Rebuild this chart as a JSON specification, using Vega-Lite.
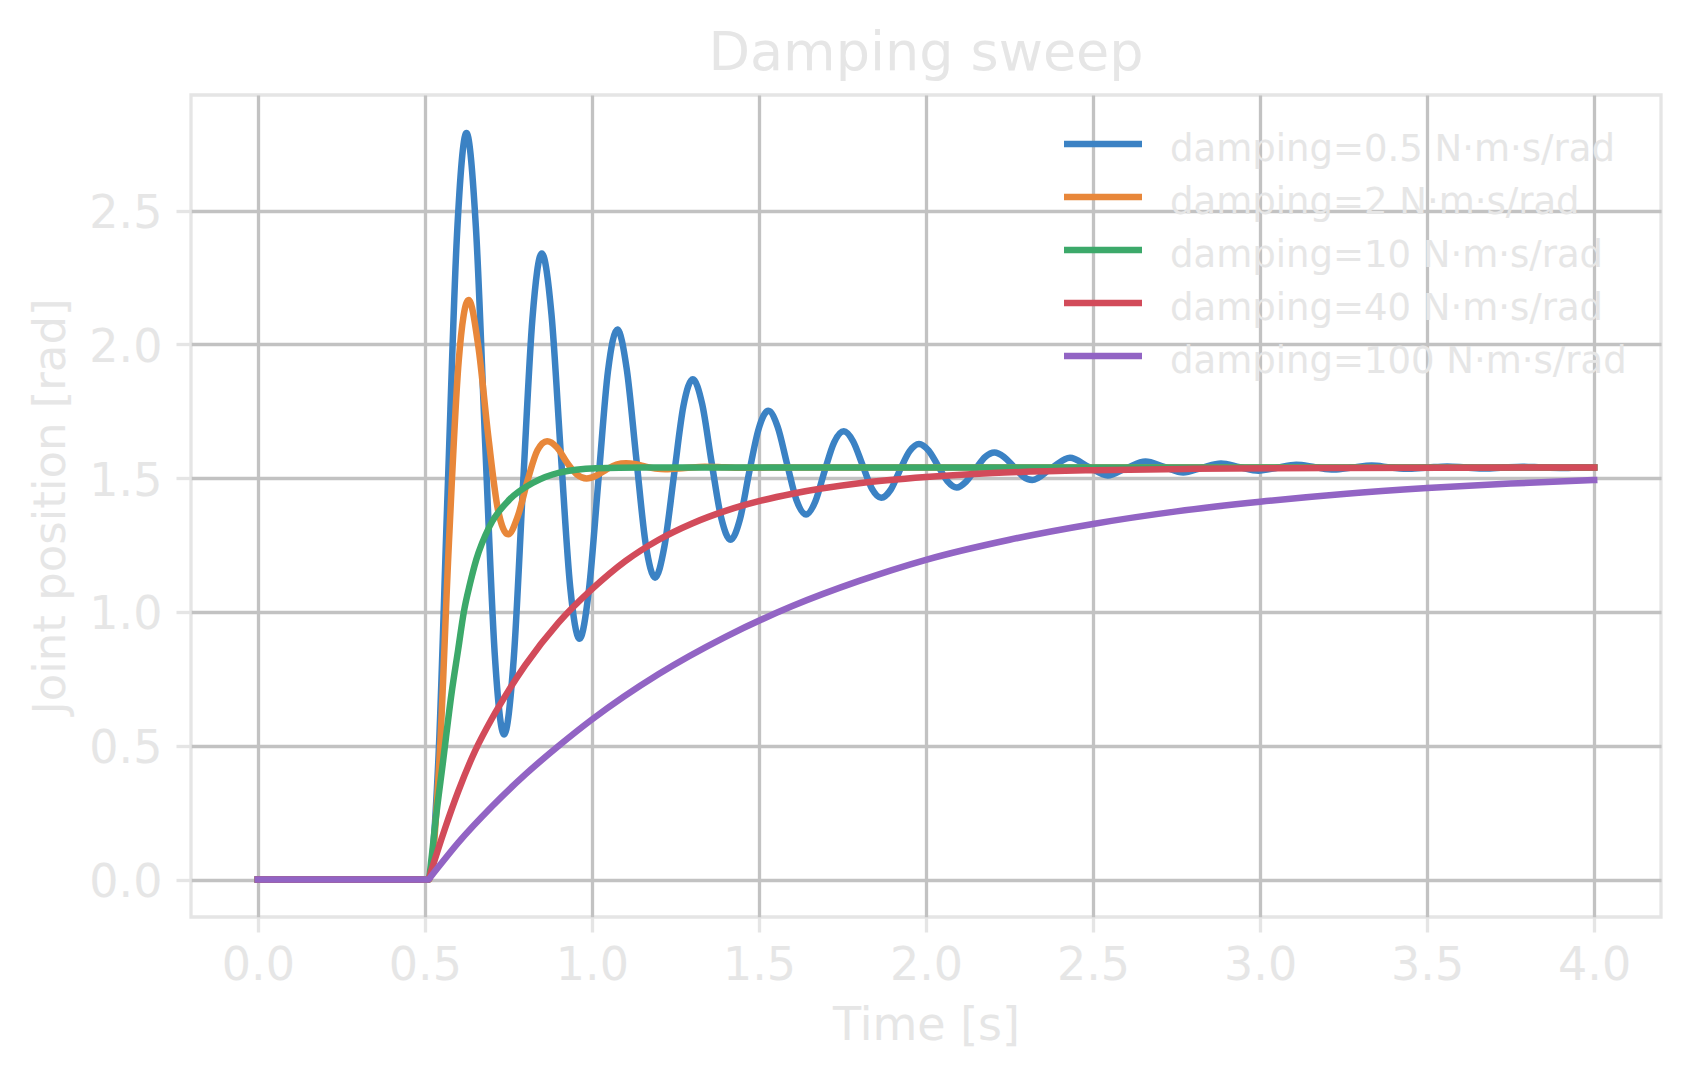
{
 "$schema": "https://vega.github.io/schema/vega-lite/v6.json",
 "width": 1470,
 "height": 822,
 "autosize": {"type": "none"},
 "padding": {"left": 191, "top": 95, "right": 30, "bottom": 163},
 "background": "white",
 "title": {"text": "Damping sweep", "fontSize": 54, "font": "DejaVu Sans", "fontWeight": "normal", "color": "#e6e6e6", "anchor": "middle", "baseline": "alphabetic", "offset": 23, "dy": 52, "frame": "group"},
 "data": {"values": [
  {"series":"damping=0.5 N·m·s/rad","t":0,"v":0},
  {"series":"damping=0.5 N·m·s/rad","t":0.511,"v":0},
  {"series":"damping=0.5 N·m·s/rad","t":0.540,"v":0.437},
  {"series":"damping=0.5 N·m·s/rad","t":0.568,"v":1.445},
  {"series":"damping=0.5 N·m·s/rad","t":0.596,"v":2.405},
  {"series":"damping=0.5 N·m·s/rad","t":0.6245,"v":2.790},
  {"series":"damping=0.5 N·m·s/rad","t":0.653,"v":2.432},
  {"series":"damping=0.5 N·m·s/rad","t":0.681,"v":1.617},
  {"series":"damping=0.5 N·m·s/rad","t":0.709,"v":0.846},
  {"series":"damping=0.5 N·m·s/rad","t":0.737,"v":0.542},
  {"series":"damping=0.5 N·m·s/rad","t":0.766,"v":0.825},
  {"series":"damping=0.5 N·m·s/rad","t":0.794,"v":1.478},
  {"series":"damping=0.5 N·m·s/rad","t":0.822,"v":2.097},
  {"series":"damping=0.5 N·m·s/rad","t":0.850,"v":2.340},
  {"series":"damping=0.5 N·m·s/rad","t":0.879,"v":2.112},
  {"series":"damping=0.5 N·m·s/rad","t":0.907,"v":1.590},
  {"series":"damping=0.5 N·m·s/rad","t":0.935,"v":1.093},
  {"series":"damping=0.5 N·m·s/rad","t":0.963,"v":0.900},
  {"series":"damping=0.5 N·m·s/rad","t":0.991,"v":1.082},
  {"series":"damping=0.5 N·m·s/rad","t":1.020,"v":1.500},
  {"series":"damping=0.5 N·m·s/rad","t":1.048,"v":1.899},
  {"series":"damping=0.5 N·m·s/rad","t":1.076,"v":2.056},
  {"series":"damping=0.5 N·m·s/rad","t":1.104,"v":1.910},
  {"series":"damping=0.5 N·m·s/rad","t":1.133,"v":1.572},
  {"series":"damping=0.5 N·m·s/rad","t":1.161,"v":1.254},
  {"series":"damping=0.5 N·m·s/rad","t":1.189,"v":1.128},
  {"series":"damping=0.5 N·m·s/rad","t":1.217,"v":1.245},
  {"series":"damping=0.5 N·m·s/rad","t":1.246,"v":1.514},
  {"series":"damping=0.5 N·m·s/rad","t":1.274,"v":1.770},
  {"series":"damping=0.5 N·m·s/rad","t":1.302,"v":1.870},
  {"series":"damping=0.5 N·m·s/rad","t":1.330,"v":1.777},
  {"series":"damping=0.5 N·m·s/rad","t":1.358,"v":1.561},
  {"series":"damping=0.5 N·m·s/rad","t":1.387,"v":1.352},
  {"series":"damping=0.5 N·m·s/rad","t":1.415,"v":1.270},
  {"series":"damping=0.5 N·m·s/rad","t":1.443,"v":1.346},
  {"series":"damping=0.5 N·m·s/rad","t":1.471,"v":1.523},
  {"series":"damping=0.5 N·m·s/rad","t":1.500,"v":1.688},
  {"series":"damping=0.5 N·m·s/rad","t":1.528,"v":1.752},
  {"series":"damping=0.5 N·m·s/rad","t":1.556,"v":1.692},
  {"series":"damping=0.5 N·m·s/rad","t":1.584,"v":1.554},
  {"series":"damping=0.5 N·m·s/rad","t":1.612,"v":1.419},
  {"series":"damping=0.5 N·m·s/rad","t":1.641,"v":1.364},
  {"series":"damping=0.5 N·m·s/rad","t":1.669,"v":1.414},
  {"series":"damping=0.5 N·m·s/rad","t":1.697,"v":1.529},
  {"series":"damping=0.5 N·m·s/rad","t":1.725,"v":1.634},
  {"series":"damping=0.5 N·m·s/rad","t":1.754,"v":1.675},
  {"series":"damping=0.5 N·m·s/rad","t":1.782,"v":1.637},
  {"series":"damping=0.5 N·m·s/rad","t":1.810,"v":1.549},
  {"series":"damping=0.5 N·m·s/rad","t":1.838,"v":1.461},
  {"series":"damping=0.5 N·m·s/rad","t":1.866,"v":1.427},
  {"series":"damping=0.5 N·m·s/rad","t":1.895,"v":1.458},
  {"series":"damping=0.5 N·m·s/rad","t":1.923,"v":1.533},
  {"series":"damping=0.5 N·m·s/rad","t":1.951,"v":1.601},
  {"series":"damping=0.5 N·m·s/rad","t":1.979,"v":1.628},
  {"series":"damping=0.5 N·m·s/rad","t":2.008,"v":1.603},
  {"series":"damping=0.5 N·m·s/rad","t":2.036,"v":1.546},
  {"series":"damping=0.5 N·m·s/rad","t":2.064,"v":1.489},
  {"series":"damping=0.5 N·m·s/rad","t":2.092,"v":1.465},
  {"series":"damping=0.5 N·m·s/rad","t":2.120,"v":1.487},
  {"series":"damping=0.5 N·m·s/rad","t":2.149,"v":1.535},
  {"series":"damping=0.5 N·m·s/rad","t":2.177,"v":1.579},
  {"series":"damping=0.5 N·m·s/rad","t":2.205,"v":1.596},
  {"series":"damping=0.5 N·m·s/rad","t":2.233,"v":1.580},
  {"series":"damping=0.5 N·m·s/rad","t":2.262,"v":1.544},
  {"series":"damping=0.5 N·m·s/rad","t":2.290,"v":1.507},
  {"series":"damping=0.5 N·m·s/rad","t":2.318,"v":1.493},
  {"series":"damping=0.5 N·m·s/rad","t":2.375,"v":1.537},
  {"series":"damping=0.5 N·m·s/rad","t":2.431,"v":1.576},
  {"series":"damping=0.5 N·m·s/rad","t":2.487,"v":1.542},
  {"series":"damping=0.5 N·m·s/rad","t":2.544,"v":1.510},
  {"series":"damping=0.5 N·m·s/rad","t":2.600,"v":1.538},
  {"series":"damping=0.5 N·m·s/rad","t":2.657,"v":1.562},
  {"series":"damping=0.5 N·m·s/rad","t":2.713,"v":1.542},
  {"series":"damping=0.5 N·m·s/rad","t":2.770,"v":1.521},
  {"series":"damping=0.5 N·m·s/rad","t":2.826,"v":1.539},
  {"series":"damping=0.5 N·m·s/rad","t":2.883,"v":1.555},
  {"series":"damping=0.5 N·m·s/rad","t":2.939,"v":1.541},
  {"series":"damping=0.5 N·m·s/rad","t":2.995,"v":1.528},
  {"series":"damping=0.5 N·m·s/rad","t":3.052,"v":1.539},
  {"series":"damping=0.5 N·m·s/rad","t":3.108,"v":1.550},
  {"series":"damping=0.5 N·m·s/rad","t":3.165,"v":1.541},
  {"series":"damping=0.5 N·m·s/rad","t":3.221,"v":1.532},
  {"series":"damping=0.5 N·m·s/rad","t":3.278,"v":1.540},
  {"series":"damping=0.5 N·m·s/rad","t":3.334,"v":1.547},
  {"series":"damping=0.5 N·m·s/rad","t":3.391,"v":1.540},
  {"series":"damping=0.5 N·m·s/rad","t":3.447,"v":1.535},
  {"series":"damping=0.5 N·m·s/rad","t":3.504,"v":1.540},
  {"series":"damping=0.5 N·m·s/rad","t":3.560,"v":1.544},
  {"series":"damping=0.5 N·m·s/rad","t":3.616,"v":1.540},
  {"series":"damping=0.5 N·m·s/rad","t":3.673,"v":1.536},
  {"series":"damping=0.5 N·m·s/rad","t":3.729,"v":1.540},
  {"series":"damping=0.5 N·m·s/rad","t":3.786,"v":1.543},
  {"series":"damping=0.5 N·m·s/rad","t":3.842,"v":1.540},
  {"series":"damping=0.5 N·m·s/rad","t":3.899,"v":1.538},
  {"series":"damping=0.5 N·m·s/rad","t":3.955,"v":1.540},
  {"series":"damping=0.5 N·m·s/rad","t":4.0,"v":1.541},
  {"series":"damping=2 N·m·s/rad","t":0,"v":0},
  {"series":"damping=2 N·m·s/rad","t":0.512,"v":0},
  {"series":"damping=2 N·m·s/rad","t":0.5425,"v":0.421},
  {"series":"damping=2 N·m·s/rad","t":0.572,"v":1.258},
  {"series":"damping=2 N·m·s/rad","t":0.601,"v":1.933},
  {"series":"damping=2 N·m·s/rad","t":0.631,"v":2.166},
  {"series":"damping=2 N·m·s/rad","t":0.660,"v":1.993},
  {"series":"damping=2 N·m·s/rad","t":0.690,"v":1.654},
  {"series":"damping=2 N·m·s/rad","t":0.719,"v":1.381},
  {"series":"damping=2 N·m·s/rad","t":0.749,"v":1.290},
  {"series":"damping=2 N·m·s/rad","t":0.778,"v":1.357},
  {"series":"damping=2 N·m·s/rad","t":0.808,"v":1.494},
  {"series":"damping=2 N·m·s/rad","t":0.837,"v":1.604},
  {"series":"damping=2 N·m·s/rad","t":0.866,"v":1.638},
  {"series":"damping=2 N·m·s/rad","t":0.896,"v":1.614},
  {"series":"damping=2 N·m·s/rad","t":0.925,"v":1.559},
  {"series":"damping=2 N·m·s/rad","t":0.955,"v":1.514},
  {"series":"damping=2 N·m·s/rad","t":0.984,"v":1.499},
  {"series":"damping=2 N·m·s/rad","t":1.014,"v":1.510},
  {"series":"damping=2 N·m·s/rad","t":1.043,"v":1.532},
  {"series":"damping=2 N·m·s/rad","t":1.073,"v":1.551},
  {"series":"damping=2 N·m·s/rad","t":1.102,"v":1.556},
  {"series":"damping=2 N·m·s/rad","t":1.132,"v":1.552},
  {"series":"damping=2 N·m·s/rad","t":1.161,"v":1.543},
  {"series":"damping=2 N·m·s/rad","t":1.190,"v":1.536},
  {"series":"damping=2 N·m·s/rad","t":1.220,"v":1.533},
  {"series":"damping=2 N·m·s/rad","t":1.279,"v":1.538},
  {"series":"damping=2 N·m·s/rad","t":1.338,"v":1.543},
  {"series":"damping=2 N·m·s/rad","t":1.397,"v":1.541},
  {"series":"damping=2 N·m·s/rad","t":1.455,"v":1.539},
  {"series":"damping=2 N·m·s/rad","t":1.6,"v":1.540},
  {"series":"damping=2 N·m·s/rad","t":2.0,"v":1.540},
  {"series":"damping=2 N·m·s/rad","t":3.0,"v":1.540},
  {"series":"damping=2 N·m·s/rad","t":4.0,"v":1.540},
  {"series":"damping=10 N·m·s/rad","t":0,"v":0},
  {"series":"damping=10 N·m·s/rad","t":0.511,"v":0},
  {"series":"damping=10 N·m·s/rad","t":0.520,"v":0.08},
  {"series":"damping=10 N·m·s/rad","t":0.530,"v":0.197},
  {"series":"damping=10 N·m·s/rad","t":0.555,"v":0.447},
  {"series":"damping=10 N·m·s/rad","t":0.580,"v":0.697},
  {"series":"damping=10 N·m·s/rad","t":0.600,"v":0.862},
  {"series":"damping=10 N·m·s/rad","t":0.6165,"v":0.999},
  {"series":"damping=10 N·m·s/rad","t":0.635,"v":1.105},
  {"series":"damping=10 N·m·s/rad","t":0.654,"v":1.196},
  {"series":"damping=10 N·m·s/rad","t":0.694,"v":1.321},
  {"series":"damping=10 N·m·s/rad","t":0.754,"v":1.421},
  {"series":"damping=10 N·m·s/rad","t":0.824,"v":1.483},
  {"series":"damping=10 N·m·s/rad","t":0.903,"v":1.521},
  {"series":"damping=10 N·m·s/rad","t":1.013,"v":1.537},
  {"series":"damping=10 N·m·s/rad","t":1.150,"v":1.540},
  {"series":"damping=10 N·m·s/rad","t":2.0,"v":1.540},
  {"series":"damping=10 N·m·s/rad","t":3.0,"v":1.540},
  {"series":"damping=10 N·m·s/rad","t":4.0,"v":1.540},
  {"series":"damping=40 N·m·s/rad","t":0,"v":0},
  {"series":"damping=40 N·m·s/rad","t":0.511,"v":0},
  {"series":"damping=40 N·m·s/rad","t":0.518,"v":0.028},
  {"series":"damping=40 N·m·s/rad","t":0.56,"v":0.19},
  {"series":"damping=40 N·m·s/rad","t":0.60,"v":0.33},
  {"series":"damping=40 N·m·s/rad","t":0.65,"v":0.48},
  {"series":"damping=40 N·m·s/rad","t":0.70,"v":0.60},
  {"series":"damping=40 N·m·s/rad","t":0.75,"v":0.705},
  {"series":"damping=40 N·m·s/rad","t":0.80,"v":0.80},
  {"series":"damping=40 N·m·s/rad","t":0.90,"v":0.96},
  {"series":"damping=40 N·m·s/rad","t":1.00,"v":1.085},
  {"series":"damping=40 N·m·s/rad","t":1.10,"v":1.19},
  {"series":"damping=40 N·m·s/rad","t":1.20,"v":1.27},
  {"series":"damping=40 N·m·s/rad","t":1.30,"v":1.331},
  {"series":"damping=40 N·m·s/rad","t":1.40,"v":1.378},
  {"series":"damping=40 N·m·s/rad","t":1.50,"v":1.414},
  {"series":"damping=40 N·m·s/rad","t":1.60,"v":1.442},
  {"series":"damping=40 N·m·s/rad","t":1.80,"v":1.481},
  {"series":"damping=40 N·m·s/rad","t":2.00,"v":1.504},
  {"series":"damping=40 N·m·s/rad","t":2.20,"v":1.519},
  {"series":"damping=40 N·m·s/rad","t":2.50,"v":1.530},
  {"series":"damping=40 N·m·s/rad","t":2.80,"v":1.535},
  {"series":"damping=40 N·m·s/rad","t":3.20,"v":1.538},
  {"series":"damping=40 N·m·s/rad","t":3.60,"v":1.539},
  {"series":"damping=40 N·m·s/rad","t":4.00,"v":1.540},
  {"series":"damping=100 N·m·s/rad","t":0,"v":0},
  {"series":"damping=100 N·m·s/rad","t":0.511,"v":0},
  {"series":"damping=100 N·m·s/rad","t":0.518,"v":0.011},
  {"series":"damping=100 N·m·s/rad","t":0.6,"v":0.138},
  {"series":"damping=100 N·m·s/rad","t":0.7,"v":0.272},
  {"series":"damping=100 N·m·s/rad","t":0.8,"v":0.392},
  {"series":"damping=100 N·m·s/rad","t":0.9,"v":0.499},
  {"series":"damping=100 N·m·s/rad","t":1.0,"v":0.598},
  {"series":"damping=100 N·m·s/rad","t":1.2,"v":0.768},
  {"series":"damping=100 N·m·s/rad","t":1.4,"v":0.907},
  {"series":"damping=100 N·m·s/rad","t":1.6,"v":1.022},
  {"series":"damping=100 N·m·s/rad","t":1.8,"v":1.116},
  {"series":"damping=100 N·m·s/rad","t":2.0,"v":1.195},
  {"series":"damping=100 N·m·s/rad","t":2.25,"v":1.270},
  {"series":"damping=100 N·m·s/rad","t":2.5,"v":1.329},
  {"series":"damping=100 N·m·s/rad","t":2.75,"v":1.376},
  {"series":"damping=100 N·m·s/rad","t":3.0,"v":1.412},
  {"series":"damping=100 N·m·s/rad","t":3.25,"v":1.441},
  {"series":"damping=100 N·m·s/rad","t":3.5,"v":1.463},
  {"series":"damping=100 N·m·s/rad","t":3.75,"v":1.480},
  {"series":"damping=100 N·m·s/rad","t":4.0,"v":1.493}
 ]},
 "mark": {"type": "line", "interpolate": "monotone", "strokeWidth": 6.5, "strokeCap": "square", "strokeJoin": "round"},
 "encoding": {
  "x": {"field": "t", "type": "quantitative",
        "scale": {"domain": [-0.2, 4.2], "nice": false, "zero": false},
        "axis": {"title": "Time [s]", "values": [0, 0.5, 1, 1.5, 2, 2.5, 3, 3.5, 4], "format": ".1f",
                 "labelBaseline": "alphabetic", "labelPadding": 47,
                 "titleBaseline": "alphabetic", "titleX": 735, "titleY": 122, "titleAlign": "center"}},
  "y": {"field": "v", "type": "quantitative",
        "scale": {"domain": [-0.14, 2.932], "nice": false, "zero": false},
        "axis": {"title": "Joint position [rad]", "values": [0, 0.5, 1, 1.5, 2, 2.5], "format": ".1f",
                 "labelBaseline": "middle", "labelPadding": 14, "labelOffset": 3,
                 "titleFontSize": 45,
                 "titleBaseline": "alphabetic", "titleAngle": 270, "titleAlign": "center", "titleX": -127, "titleY": 411}},
  "color": {"field": "series", "type": "nominal",
            "scale": {"domain": ["damping=0.5 N·m·s/rad", "damping=2 N·m·s/rad", "damping=10 N·m·s/rad", "damping=40 N·m·s/rad", "damping=100 N·m·s/rad"],
                      "range": ["#3b82c4", "#e8873a", "#3ca96a", "#d24b5a", "#9264c4"]},
            "legend": {"title": null, "orient": "none", "legendX": 869.5, "legendY": 22.6, "padding": 0,
                       "symbolType": "stroke", "symbolSize": 6084, "symbolStrokeWidth": 6.5,
                       "labelFontSize": 37, "labelFont": "DejaVu Sans", "labelColor": "#e6e6e6",
                       "labelOffset": 24.5, "clipHeight": 52.8, "rowPadding": 0, "labelLimit": 0,
                       "encode": {"labels": {"update": {"dy": {"value": 5.5}}}}}}
 },
 "config": {
  "font": "DejaVu Sans",
  "view": {"stroke": "#e5e5e5", "strokeWidth": 3.3},
  "axis": {"labelColor": "#e6e6e6", "titleColor": "#e6e6e6", "labelFont": "DejaVu Sans", "titleFont": "DejaVu Sans",
           "titleFontWeight": "normal", "labelFontSize": 46, "titleFontSize": 46,
           "tickColor": "#e5e5e5", "tickWidth": 3.3, "tickSize": 15, "domain": false,
           "grid": true, "gridColor": "#c2c2c2", "gridWidth": 3.3, "labelFlush": false, "labelOverlap": false}
 }
}
